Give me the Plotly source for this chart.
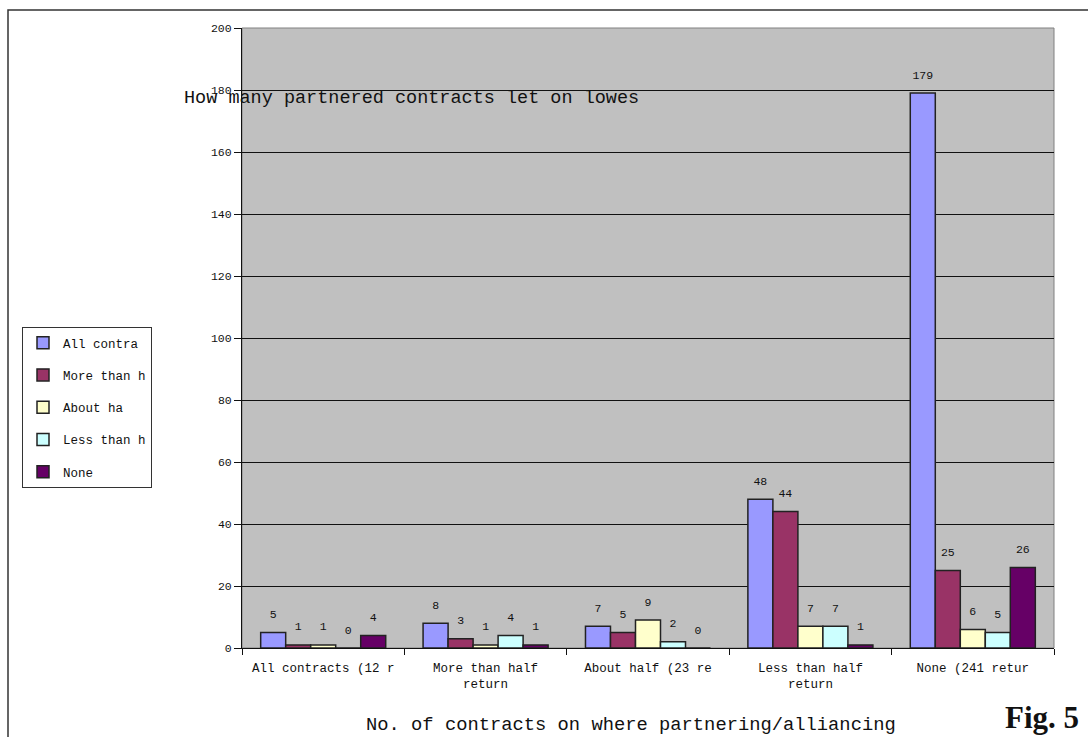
import plotly.graph_objects as go

# Category labels (as printed under each group, truncated in the source sheet)
categories = [
    "All contracts (12 r",
    "More than half<br>return",
    "About half (23 re",
    "Less than half<br>return",
    "None (241 retur",
]

series_names = ["All contra", "More than h", "About ha", "Less than h", "None"]

all_contracts = [5, 8, 7, 48, 179]
more_than_half = [1, 3, 5, 44, 25]
about_half = [1, 1, 9, 7, 6]
less_than_half = [0, 4, 2, 7, 5]
none_values = [4, 1, 0, 1, 26]

series_values = [all_contracts, more_than_half, about_half, less_than_half, none_values]
series_colors = ["#9999FF", "#993366", "#FFFFCC", "#CCFFFF", "#660066"]

y_ticks = [0, 20, 40, 60, 80, 100, 120, 140, 160, 180, 200]

MONO = "Liberation Mono, Courier New, monospace"

W, H = 1088, 737
L, R, T, B = 242, 34, 28, 89
pw, ph = W - L - R, H - T - B


def px_x(x):
    return (x - L) / pw


def px_y(y):
    return (H - B - y) / ph


fig = go.Figure()
for i, (name, vals, col) in enumerate(zip(series_names, series_values, series_colors)):
    fig.add_trace(go.Bar(
        x=categories,
        y=vals,
        name=name,
        legendgroup=f"g{i}",
        offsetgroup=str(i),
        marker=dict(color=col, line=dict(color="#222222", width=1.5)),
    ))
# value labels, grouped the same way as the bars; the invisible marker
# lifts each label clear of its bar top
for i, vals in enumerate(series_values):
    fig.add_trace(go.Scatter(
        x=categories,
        y=vals,
        mode="markers+text",
        text=[str(v) for v in vals],
        textposition="top center",
        textfont=dict(family=MONO, size=11.5, color="#111111"),
        marker=dict(size=17, opacity=0),
        offsetgroup=str(i),
        showlegend=False,
        hoverinfo="skip",
        cliponaxis=False,
    ))

fig.update_layout(
    width=W,
    height=H,
    margin=dict(l=L, r=R, t=T, b=B, autoexpand=False),
    paper_bgcolor="white",
    plot_bgcolor="#C0C0C0",
    barmode="group",
    bargap=0.23,
    bargroupgap=0,
    scattermode="group",
    scattergap=0.23,
    font=dict(family=MONO, color="#111111"),
    showlegend=True,
    legend=dict(
        x=px_x(22), y=px_y(327), xanchor="left", yanchor="top",
        bgcolor="white", bordercolor="#333333", borderwidth=1,
        font=dict(family=MONO, size=12.5, color="#111111"),
        tracegroupgap=13,
        itemwidth=30,
    ),
    xaxis=dict(
        automargin=False,
        showline=True, linecolor="#111111", linewidth=1,
        ticks="outside", tickson="boundaries", ticklen=6, tickcolor="#111111",
        tickfont=dict(family=MONO, size=12.5, color="#111111"),
        ticklabelstandoff=8,
        showgrid=False,
    ),
    yaxis=dict(
        automargin=False,
        range=[0, 200], tickvals=y_ticks,
        showline=True, linecolor="#111111", linewidth=1,
        ticks="outside", ticklen=7, tickcolor="#111111",
        tickfont=dict(family=MONO, size=11.5, color="#111111"),
        showgrid=True, gridcolor="#111111", gridwidth=1,
        zeroline=False,
    ),
    annotations=[
        dict(text="How many partnered contracts let on lowes",
             xref="paper", yref="paper", x=px_x(182), y=px_y(98),
             xanchor="left", yanchor="middle", showarrow=False,
             font=dict(family=MONO, size=18.5, color="#111111")),
        dict(text="No. of contracts on where partnering/alliancing",
             xref="paper", yref="paper", x=px_x(631), y=px_y(725),
             xanchor="center", yanchor="middle", showarrow=False,
             font=dict(family=MONO, size=18.8, color="#111111")),
        dict(text="<b>Fig. 5</b>",
             xref="paper", yref="paper", x=px_x(1081), y=px_y(717),
             xanchor="right", yanchor="middle", showarrow=False,
             font=dict(family="Liberation Serif, Times New Roman, serif", size=31, color="#111111")),
    ],
    shapes=[
        # outer frame of the sheet
        dict(type="rect", xref="paper", yref="paper",
             x0=px_x(8), y0=px_y(745), x1=px_x(1095), y1=px_y(10),
             line=dict(color="#333333", width=1.5), fillcolor="rgba(0,0,0,0)", layer="above"),
        # plot area border
        dict(type="rect", xref="paper", yref="paper", x0=0, y0=0, x1=1, y1=1,
             line=dict(color="#808080", width=1), fillcolor="rgba(0,0,0,0)", layer="below"),
    ],
)

fig.write_html("out.html", config={"displayModeBar": False})
